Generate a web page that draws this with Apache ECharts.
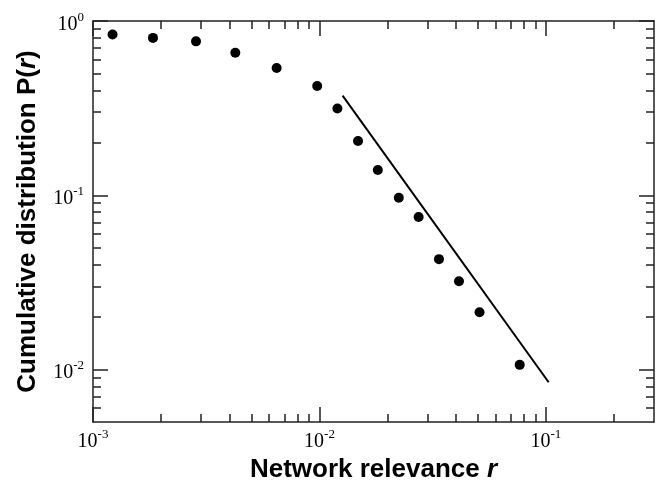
<!DOCTYPE html>
<html>
<head>
<meta charset="utf-8">
<script src="https://cdn.jsdelivr.net/npm/echarts@6/dist/echarts.min.js"></script>
<style>html,body{margin:0;padding:0;background:#fff}#c{width:658px;height:488px}</style>
</head>
<body>
<div id="c"></div>
<script>
// Data (log-log)
const relevance = [0.00122, 0.00184, 0.00285, 0.00425, 0.00647, 0.00977, 0.0120, 0.0148, 0.0181, 0.0224, 0.0274, 0.0337, 0.0413, 0.0509, 0.0766];
const cumulative = [0.836, 0.800, 0.764, 0.658, 0.537, 0.424, 0.315, 0.205, 0.1395, 0.0967, 0.0751, 0.0430, 0.0321, 0.0213, 0.01064];
const fitX = [0.01265, 0.1028];
const fitY = [0.373, 0.00845];
const xMajor = [0.001, 0.01, 0.1];
const xMinor = [0.002,0.003,0.004,0.005,0.006,0.007,0.008,0.009,0.02,0.03,0.04,0.05,0.06,0.07,0.08,0.09,0.2];
const yMajor = [0.01, 0.1, 1];
const yMinor = [0.006,0.007,0.008,0.009,0.02,0.03,0.04,0.05,0.06,0.07,0.08,0.09,0.2,0.3,0.4,0.5,0.6,0.7,0.8,0.9];
const xRange = [0.001, 0.3];
const yRange = [0.005, 1];

const lineCol = '#222';
function supFmt(v) {
  const e = Math.round(Math.log10(v));
  if (Math.abs(Math.log10(v) - e) > 1e-6) return '';
  return '{b|10}{s|' + e + '}';
}
const richSup = {
  b: { fontFamily: 'Liberation Serif', fontSize: 20, lineHeight: 20, padding: [7, 0, 0, 0], color: '#000' },
  s: { fontFamily: 'Liberation Serif', fontSize: 13, lineHeight: 13, verticalAlign: 'top', color: '#000' }
};
function axis(dim, pos, major, withLine, withLabel, extra) {
  const range = dim === 'x' ? xRange : yRange;
  const o = {
    type: 'log', logBase: 10, position: pos, min: range[0], max: range[1],
    splitLine: { show: false }, minorTick: { show: false },
    axisLine: { show: withLine, lineStyle: { color: lineCol, width: 1.5 } },
    axisTick: { show: true, inside: true, length: major ? 15 : 8,
      customValues: dim === 'x' ? (major ? xMajor : xMinor) : (major ? yMajor : yMinor),
      lineStyle: { color: lineCol, width: 1.5 } },
    axisLabel: { show: withLabel }
  };
  if (withLabel) {
    o.axisLabel = { show: true, customValues: dim === 'x' ? xMajor : yMajor, formatter: supFmt, rich: richSup,
      margin: dim === 'x' ? 6 : 9, showMinLabel: true, showMaxLabel: true };
  }
  return Object.assign(o, extra || {});
}

const titleStyle = { fontFamily: 'Liberation Sans', fontWeight: 'bold', fontSize: 26, color: '#000',
  rich: { i: { fontFamily: 'Liberation Sans', fontWeight: 'bold', fontStyle: 'italic', fontSize: 26, color: '#000' } } };

const chart = echarts.init(document.getElementById('c'), null, { renderer: 'canvas' });
chart.setOption({
  animation: false,
  backgroundColor: '#fff',
  grid: { left: 93, right: 4, top: 21, bottom: 66, containLabel: false },
  xAxis: [
    axis('x', 'bottom', true, true, true, {
      name: 'Network relevance {i|r}', nameLocation: 'middle', nameGap: 34, nameTextStyle: titleStyle
    }),
    axis('x', 'bottom', false, false, false),
    axis('x', 'top', true, true, false),
    axis('x', 'top', false, false, false)
  ],
  yAxis: [
    axis('y', 'left', true, true, true, {
      name: 'Cumulative distribution P({i|r})', nameLocation: 'middle', nameGap: 52, nameTextStyle: titleStyle
    }),
    axis('y', 'left', false, false, false),
    axis('y', 'right', true, true, false),
    axis('y', 'right', false, false, false)
  ],
  series: [
    {
      type: 'scatter', xAxisIndex: 0, yAxisIndex: 0, symbol: 'circle', symbolSize: 10,
      itemStyle: { color: '#000', opacity: 1 },
      data: relevance.map((x, i) => [x, cumulative[i]])
    },
    {
      type: 'line', xAxisIndex: 0, yAxisIndex: 0, symbol: 'none',
      lineStyle: { color: '#000', width: 2 },
      data: fitX.map((x, i) => [x, fitY[i]])
    }
  ]
});
</script>
</body>
</html>
